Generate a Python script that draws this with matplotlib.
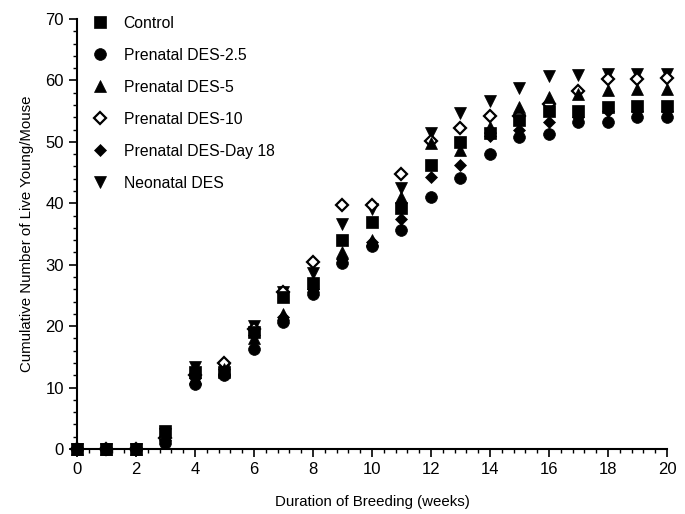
import matplotlib
matplotlib.use("Agg")
import matplotlib.pyplot as plt
from matplotlib.ticker import MultipleLocator

plt.rcParams['font.family'] = ['Liberation Sans', 'DejaVu Sans']

weeks = list(range(0, 21))

control = [0, 0, 0, 3.0, 12.5, 12.5, 19.0, 24.8, 27.0, 34.0, 37.0,
           39.3, 46.2, 50.0, 51.5, 53.5, 55.0, 55.0, 55.7, 55.8, 55.9]
des_25 = [0, 0, 0, 1.0, 10.5, 12.0, 16.2, 20.7, 25.2, 30.2, 33.0,
          35.7, 41.0, 44.1, 48.0, 50.8, 51.2, 53.3, 53.3, 54.0, 54.0]
des_5 = [0, 0, 0, 2.2, 11.5, 13.0, 18.0, 22.0, 26.5, 32.0, 34.0,
         41.0, 49.8, 48.7, 52.5, 55.7, 57.3, 57.8, 58.5, 58.6, 58.6]
des_10 = [0, 0, 0, 1.8, 12.0, 14.0, 19.5, 25.5, 30.5, 39.7, 39.7,
          44.7, 50.2, 52.2, 54.2, 54.2, 56.2, 58.3, 60.2, 60.3, 60.4]
des_day18 = [0, 0, 0, 1.5, 11.5, 13.0, 18.5, 21.5, 26.0, 31.0, 33.7,
             37.5, 44.3, 46.3, 51.0, 52.0, 53.3, 54.0, 55.0, 55.0, 55.0]
neonatal = [0, 0, 0, 2.5, 13.3, 13.0, 20.0, 25.5, 28.7, 36.7, 39.0,
            42.5, 51.5, 54.7, 56.6, 58.8, 60.8, 60.9, 61.0, 61.0, 61.0]

series = [
    ("Control", control, 's', 'black', 8),
    ("Prenatal DES-2.5", des_25, 'o', 'black', 8.5),
    ("Prenatal DES-5", des_5, '^', 'black', 8.5),
    ("Prenatal DES-10", des_10, 'D', 'white', 6),
    ("Prenatal DES-Day 18", des_day18, 'D', 'black', 6),
    ("Neonatal DES", neonatal, 'v', 'black', 8.5),
]

fig = plt.figure(figsize=(6.85, 5.14), dpi=100)
ax = fig.add_axes([0.1124, 0.1265, 0.8613, 0.8365])

handles = []
for i, (name, vals, mk, fc, ms) in enumerate(series):
    h, = ax.plot(weeks, vals, linestyle='none', marker=mk, markersize=ms,
                 markerfacecolor=fc, markeredgecolor='black',
                 markeredgewidth=1.6 if fc == 'white' else 0.5,
                 label=name, clip_on=False, zorder=10 - i)
    handles.append(h)

ax.set_xlim(0, 20)
ax.set_ylim(0, 70)
ax.xaxis.set_major_locator(MultipleLocator(2))
ax.xaxis.set_minor_locator(MultipleLocator(0.4))
ax.yaxis.set_major_locator(MultipleLocator(10))
ax.yaxis.set_minor_locator(MultipleLocator(2))

for s in ['top', 'right']:
    ax.spines[s].set_visible(False)
for s in ['left', 'bottom']:
    ax.spines[s].set_linewidth(1.5)

ax.tick_params(which='major', length=6, width=1.2, labelsize=12, direction='out')
ax.tick_params(which='minor', length=3, width=1.0, direction='out')

ax.set_xlabel("Duration of Breeding (weeks)", fontsize=10.8, labelpad=13)
ax.set_ylabel("Cumulative Number of Live Young/Mouse", fontsize=10.8, labelpad=8)

ax.legend(handles=handles, loc='upper left', bbox_to_anchor=(0.015, 1.022),
          frameon=False, fontsize=11.3, labelspacing=1.08, handletextpad=1.0,
          handlelength=1.0, borderaxespad=0.0)

fig.savefig("out.png", dpi=100)
